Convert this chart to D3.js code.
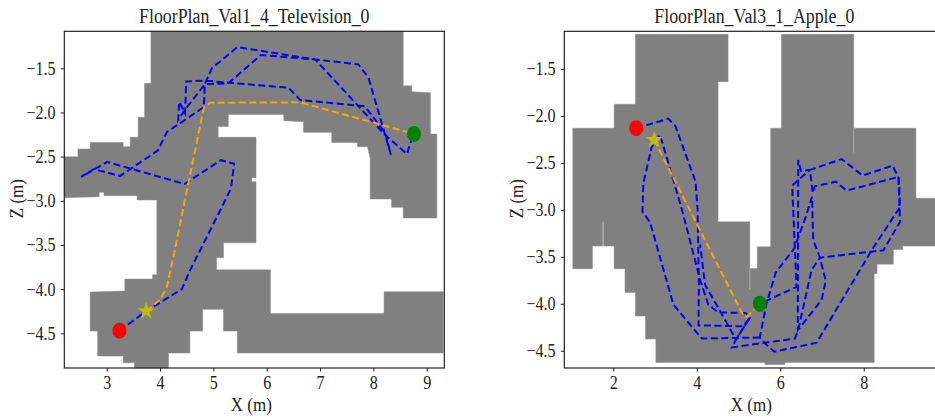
<!DOCTYPE html>
<html>
<head>
<meta charset="utf-8">
<script src="https://cdn.jsdelivr.net/npm/d3@7"></script>
<style>
  html, body { margin: 0; padding: 0; background: #fff; overflow: hidden; }
  svg { display: block; font-family: "Liberation Serif", serif; }
</style>
</head>
<body>
<svg id="chart" width="935" height="417"></svg>
<script>
// walkable floor outlines, [x, z] in metres
const floorLeft = [[3.83,-1.081],[3.83,-1.67],[3.71,-1.67],[3.71,-2.055],[3.59,-2.055],[3.59,-2.281],[3.44,-2.281],[3.44,-2.388],[3.31,-2.388],[3.31,-2.34],[2.69,-2.34],[2.69,-2.414],[2.46,-2.414],[2.46,-2.501],[2.205,-2.501],[2.205,-2.965],[2.86,-2.954],[2.86,-2.904],[2.95,-2.904],[2.95,-2.943],[3.57,-2.943],[3.57,-2.991],[3.94,-2.991],[3.94,-3.837],[3.86,-3.837],[3.86,-3.886],[3.34,-3.886],[3.34,-4.022],[2.69,-4.033],[2.69,-4.475],[2.83,-4.475],[2.83,-4.758],[3.31,-4.758],[3.31,-4.834],[3.52,-4.834],[3.52,-4.893],[4.16,-4.893],[4.16,-4.724],[4.56,-4.724],[4.56,-4.475],[4.80,-4.475],[4.80,-4.229],[5.19,-4.229],[5.19,-4.475],[5.45,-4.475],[5.45,-4.724],[9.31,-4.724],[9.31,-4.03],[8.20,-4.03],[8.20,-4.275],[6.07,-4.275],[6.07,-3.781],[5.06,-3.781],[5.06,-3.645],[5.19,-3.645],[5.19,-3.475],[5.80,-3.475],[5.80,-2.784],[5.72,-2.784],[5.72,-2.739],[5.80,-2.739],[5.80,-2.281],[5.09,-2.281],[5.09,-2.159],[5.28,-2.159],[5.28,-2.023],[6.32,-2.023],[6.32,-2.093],[6.69,-2.105],[6.69,-2.225],[7.22,-2.225],[7.22,-2.34],[7.70,-2.34],[7.70,-2.388],[7.89,-2.388],[7.94,-2.519],[7.94,-2.98],[8.34,-2.98],[8.34,-3.074],[8.56,-3.074],[8.56,-3.195],[9.19,-3.195],[9.19,-2.244],[9.07,-2.244],[9.07,-1.776],[8.72,-1.765],[8.72,-1.697],[8.56,-1.697],[8.56,-1.081]]
const floorRight = [[2.53,-1.131],[2.53,-1.876],[2.02,-1.876],[2.02,-2.131],[1.03,-2.131],[1.03,-3.628],[1.50,-3.628],[1.50,-3.386],[1.743,-3.386],[1.743,-3.128],[1.767,-3.128],[1.767,-3.386],[2.02,-3.386],[2.02,-3.628],[2.28,-3.628],[2.28,-3.88],[2.53,-3.88],[2.53,-4.131],[2.77,-4.131],[2.77,-4.376],[3.02,-4.376],[3.02,-4.625],[5.63,-4.625],[5.63,-4.646],[6.11,-4.646],[6.11,-4.625],[8.25,-4.625],[8.25,-3.678],[8.32,-3.678],[8.32,-3.578],[8.71,-3.578],[8.71,-3.422],[8.93,-3.422],[8.93,-3.386],[9.9,-3.386],[9.9,-2.876],[9.25,-2.876],[9.25,-2.131],[7.76,-2.131],[7.76,-1.131],[6.03,-1.131],[6.03,-2.131],[5.77,-2.131],[5.77,-3.394],[5.45,-3.394],[5.45,-3.624],[5.27,-3.624],[5.27,-3.128],[4.51,-3.128],[4.51,-1.635],[4.75,-1.635],[4.75,-1.131]]

// thin seams between floor cells on the right plan
const seamsRight = [[[5.27,-3.624],[5.27,-3.848]],[[7.76,-2.131],[7.76,-2.39]]]

// agent trajectories
const blueLeft = [[3.24,-4.47],[3.74,-4.25],[4.41,-4.00],[4.56,-3.79],[5.16,-3.07],[5.33,-2.86],[5.39,-2.58],[5.14,-2.54],[4.46,-2.81],[3.01,-2.56],[2.52,-2.73],[2.76,-2.64],[3.25,-2.72],[3.96,-2.43],[4.13,-2.22],[4.82,-1.94],[4.84,-1.68],[4.97,-1.50],[5.45,-1.26],[6.91,-1.40],[7.72,-1.455],[7.91,-1.61],[8.33,-2.48],[8.22,-2.23],[7.84,-1.93],[6.63,-1.86],[6.41,-1.72],[4.84,-1.64],[4.49,-1.65],[4.47,-2.01],[4.36,-1.88],[4.34,-2.085],[4.49,-1.95],[4.84,-1.68],[5.28,-1.67],[5.89,-1.35],[6.91,-1.40],[8.22,-2.255],[8.63,-2.47],[8.69,-2.35],[8.76,-2.244]]
const orangeLeft = [[3.74,-4.25],[4.00,-4.12],[4.125,-3.98],[4.25,-3.64],[4.44,-3.07],[4.82,-1.95],[4.94,-1.89],[6.63,-1.885],[8.63,-2.22],[8.76,-2.244]]
const blueRightA = [[2.55,-2.13],[3.32,-2.03],[3.49,-2.11],[3.97,-2.70],[4.02,-3.00],[4.05,-3.80],[4.04,-4.23],[5.11,-4.24],[5.27,-4.15],[4.94,-4.38],[4.84,-4.465],[6.35,-4.37],[6.43,-4.28],[6.75,-3.64],[6.95,-3.51],[8.47,-3.43],[8.87,-3.13],[8.83,-2.65],[7.59,-2.795],[7.33,-2.70],[6.83,-2.75],[6.78,-2.82],[6.71,-2.575],[7.47,-2.46],[7.97,-2.635],[8.69,-2.53],[8.84,-2.66],[8.87,-2.97],[8.19,-3.43],[6.87,-4.415],[5.86,-4.51],[5.63,-4.42],[5.51,-4.36],[5.67,-4.00],[5.89,-3.67],[6.335,-3.41],[6.61,-3.075],[6.76,-2.86],[6.79,-3.32],[6.95,-3.51],[7.09,-3.755],[6.99,-3.96],[6.42,-4.28],[6.43,-2.47],[6.495,-2.585],[6.71,-2.575],[6.31,-2.73],[6.29,-2.79],[6.39,-3.82],[5.51,-4.00]]
const blueRightB = [[5.51,-4.36],[4.12,-4.37],[3.44,-4.01],[2.88,-3.13],[2.70,-3.02],[2.72,-2.72],[2.92,-2.33],[3.12,-2.20],[3.64,-2.99],[4.08,-3.745],[4.275,-4.01],[4.51,-4.09],[5.18,-4.10],[5.27,-4.15],[4.94,-4.38],[4.56,-4.08],[4.20,-3.80],[4.08,-3.37]]
const orangeRight = [[2.98,-2.255],[5.11,-4.12],[5.195,-4.14],[5.35,-4.075],[5.51,-4.00]]

const startLeft = [3.24, -4.47]
const goalLeft = [8.76, -2.244]
const targetLeft = [3.74, -4.25]
const startRight = [2.55, -2.13]
const goalRight = [5.51, -4.00]
const targetRight = [2.98, -2.255]

const xDomainLeft = [2.205, 9.33]
const zDomainLeft = [-4.893, -1.081]
const xDomainRight = [0.826, 9.93]
const zDomainRight = [-4.684, -1.099]

const xTicksLeft = [3, 4, 5, 6, 7, 8, 9]
const xTicksRight = [2, 4, 6, 8]
const zTicks = [-1.5, -2, -2.5, -3, -3.5, -4, -4.5]

const svg = d3.select('#chart')
const TEXT_SQUEEZE = 0.87

function drawPanel ({ left, title, floor, seams = [], blue, orange, start, goal, target, xDomain, zDomain, xTicks }) {
  const width = 380
  const top = 31.3
  const height = 336.7
  const x = d3.scaleLinear(xDomain, [0, width])
  const z = d3.scaleLinear(zDomain, [height, 0])
  const line = d3.line(d => x(d[0]), d => z(d[1]))

  const g = svg.append('g').attr('transform', `translate(${left},${top})`)

  g.append('path')
    .attr('d', line(floor) + 'Z')
    .attr('fill', '#808080')
    .attr('stroke', '#8c8c8c')
    .attr('stroke-width', 0.5)

  g.selectAll('.seam').data(seams).join('path')
    .attr('class', 'seam')
    .attr('d', line)
    .attr('fill', 'none')
    .attr('stroke', '#b0b0b0')
    .attr('stroke-width', 1)

  g.selectAll('.blue').data(blue).join('path')
    .attr('class', 'blue')
    .attr('d', line)
    .attr('fill', 'none')
    .attr('stroke', '#0000ff')
    .attr('stroke-width', 2)
    .attr('stroke-dasharray', '7,3.5')

  g.append('path')
    .attr('d', line(orange))
    .attr('fill', 'none')
    .attr('stroke', '#ffa500')
    .attr('stroke-width', 2)
    .attr('stroke-dasharray', '7,3.5')

  g.append('ellipse')
    .attr('cx', x(start[0])).attr('cy', z(start[1]))
    .attr('rx', 7).attr('ry', 8)
    .attr('fill', '#ff0000')

  g.append('ellipse')
    .attr('cx', x(goal[0])).attr('cy', z(goal[1]))
    .attr('rx', 7).attr('ry', 8)
    .attr('fill', '#008000')

  g.append('path')
    .attr('d', d3.symbol(d3.symbolStar, 95)())
    .attr('transform', `translate(${x(target[0])},${z(target[1])})`)
    .attr('fill', '#bfbf00')

  const xAxis = d3.axisBottom(x).tickValues(xTicks).tickFormat(d3.format('d')).tickSizeOuter(0).tickSize(3.5)
  const zAxis = d3.axisLeft(z).tickValues(zTicks).tickFormat(d3.format('.1f')).tickSizeOuter(0).tickSize(3.5)

  const gx = g.append('g').attr('transform', `translate(0,${height})`).call(xAxis)
  const gz = g.append('g').call(zAxis)

  ;[gx, gz].forEach(a => {
    a.select('.domain').remove()
    a.selectAll('line').attr('stroke', '#222')
    a.selectAll('text')
      .attr('fill', '#222')
      .attr('font-size', 18.5)
      .attr('font-family', '"Liberation Serif", serif')
      .attr('transform', `scale(${TEXT_SQUEEZE},1)`)
  })
  gx.selectAll('text').attr('y', 8)
  gz.selectAll('text').attr('x', -10)

  g.append('rect')
    .attr('width', width).attr('height', height)
    .attr('fill', 'none')
    .attr('stroke', '#222')
    .attr('stroke-width', 1.2)

  g.append('text')
    .attr('transform', `translate(${width / 2},-8) scale(${TEXT_SQUEEZE},1)`)
    .attr('text-anchor', 'middle')
    .attr('font-size', 20.5)
    .attr('fill', '#222')
    .text(title)

  g.append('text')
    .attr('transform', `translate(${width / 2 - 3},${height + 43}) scale(${TEXT_SQUEEZE},1)`)
    .attr('text-anchor', 'middle')
    .attr('font-size', 19.5)
    .attr('fill', '#222')
    .text('X (m)')

  g.append('text')
    .attr('transform', `translate(-41,${height / 2 - 1}) rotate(-90) scale(${TEXT_SQUEEZE},1)`)
    .attr('text-anchor', 'middle')
    .attr('font-size', 19.5)
    .attr('fill', '#222')
    .text('Z (m)')
}

drawPanel({
  left: 64.3,
  title: 'FloorPlan_Val1_4_Television_0',
  floor: floorLeft,
  blue: [blueLeft],
  orange: orangeLeft,
  start: startLeft,
  goal: goalLeft,
  target: targetLeft,
  xDomain: xDomainLeft,
  zDomain: zDomainLeft,
  xTicks: xTicksLeft
})

drawPanel({
  left: 564.3,
  title: 'FloorPlan_Val3_1_Apple_0',
  floor: floorRight,
  seams: seamsRight,
  blue: [blueRightA, blueRightB],
  orange: orangeRight,
  start: startRight,
  goal: goalRight,
  target: targetRight,
  xDomain: xDomainRight,
  zDomain: zDomainRight,
  xTicks: xTicksRight
})
</script>
</body>
</html>
